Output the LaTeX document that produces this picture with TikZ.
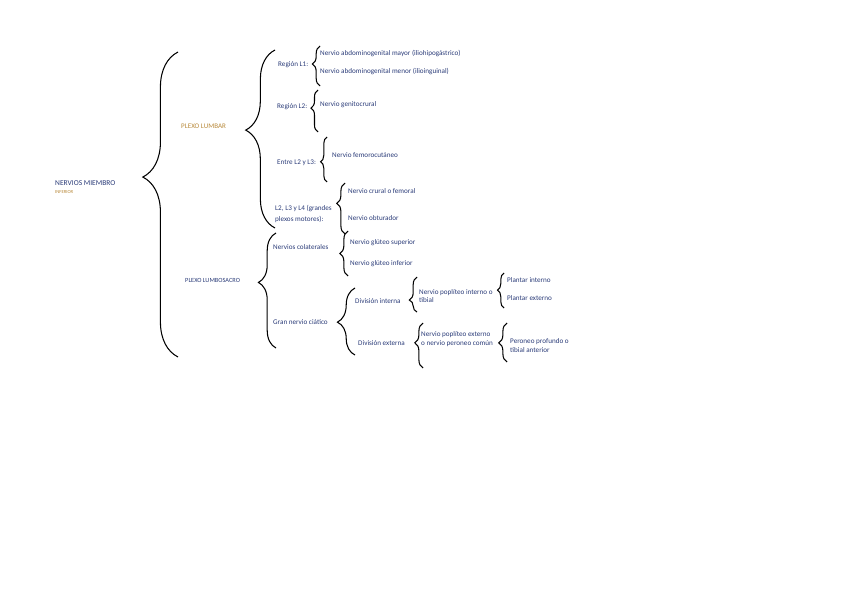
\documentclass[tikz,border=0pt]{standalone}
\usepackage{fontspec}
\setmainfont{Carlito}
\usepackage{tikz}
\usetikzlibrary{decorations.pathreplacing}
\definecolor{azul}{HTML}{2A3B78}
\definecolor{ocre}{HTML}{B8893A}
\tikzset{
  txt/.style={anchor=west, inner sep=0pt, text=azul, align=left, font=\fontsize{6.1}{7.6}\selectfont},
  titulo/.style={txt, font=\fontsize{6.4}{7}\selectfont},
  llave/.style 2 args={draw=black, line width=0.9pt, decorate, decoration={brace, amplitude=#1, aspect=#2}}
}

\begin{document}
\begin{tikzpicture}[x=0.3mm, y=-0.3mm]
  \useasboundingbox (0,0) rectangle (848,599);
  % titulo
  \node[titulo] (nervios) at (55,183) {NERVIOS MIEMBRO};
  \node[titulo, text=ocre, font=\fontsize{4}{5}\selectfont] (inferior) at (55,192) {INFERIOR};
  % plexos
  \node[titulo, text=ocre, font=\fontsize{6}{7}\selectfont] (plumbar) at (181,126) {PLEXO LUMBAR};
  \node[titulo, font=\fontsize{5.4}{6}\selectfont] (plumbosacro) at (185,280) {PLEXO LUMBOSACRO};
  % plexo lumbar
  \node[txt] (regl1) at (278,65) {Región L1:};
  \node[txt] (abdmayor) at (320,54) {Nervio abdominogenital mayor (iliohipogástrico)};
  \node[txt] (abdmenor) at (320,72) {Nervio abdominogenital menor (ilioinguinal)};
  \node[txt] (regl2) at (277,107) {Región L2:};
  \node[txt] (genito) at (320,105) {Nervio genitocrural};
  \node[txt] (entre) at (277,163) {Entre L2 y L3:};
  \node[txt] (femcut) at (332,155) {Nervio femorocutáneo};
  \node[txt, font=\fontsize{6.1}{9}\selectfont] (grandes) at (275,214) {L2, L3 y L4 (grandes\\plexos motores):};
  \node[txt] (crural) at (348,191) {Nervio crural o femoral};
  \node[txt] (obturador) at (348,218) {Nervio obturador};
  % plexo lumbosacro
  \node[txt] (colat) at (273,247) {Nervios colaterales};
  \node[txt] (glsup) at (350,243) {Nervio glúteo superior};
  \node[txt] (glinf) at (350,264) {Nervio glúteo inferior};
  \node[txt] (ciatico) at (273,322) {Gran nervio ciático};
  \node[txt] (divint) at (355,301) {División interna};
  \node[txt] (popint) at (419,296) {Nervio poplíteo interno o\\tibial};
  \node[txt] (plint) at (507,280) {Plantar interno};
  \node[txt] (plext) at (507,298) {Plantar externo};
  \node[txt] (divext) at (358,343) {División externa};
  \node[txt] (popext) at (421,339.5) {Nervio poplíteo externo\\o nervio peroneo común};
  \node[txt] (peroneo) at (510,345.5) {Peroneo profundo o\\tibial anterior};
  % llaves
  \coordinate (ll0a) at (178,357); \coordinate (ll0b) at (178,52);
  \coordinate (ll1a) at (275,228); \coordinate (ll1b) at (275,50);
  \coordinate (ll2a) at (276,348); \coordinate (ll2b) at (276,233);
  \coordinate (ll3a) at (320,86);  \coordinate (ll3b) at (320,46);
  \coordinate (ll4a) at (318,132); \coordinate (ll4b) at (318,90);
  \coordinate (ll5a) at (327,182); \coordinate (ll5b) at (327,137);
  \coordinate (ll6a) at (345,234); \coordinate (ll6b) at (345,183);
  \coordinate (ll7a) at (348,276); \coordinate (ll7b) at (348,231);
  \coordinate (ll8a) at (355,355); \coordinate (ll8b) at (355,288);
  \coordinate (ll9a) at (417,312); \coordinate (ll9b) at (417,277);
  \coordinate (ll10a) at (504,308); \coordinate (ll10b) at (504,273);
  \coordinate (ll11a) at (423,368); \coordinate (ll11b) at (423,323);
  \coordinate (ll12a) at (507,362); \coordinate (ll12b) at (507,323);
  \draw[llave={30pt}{0.59}] (ll0a) -- (ll0b);
  \draw[llave={25pt}{0.55}] (ll1a) -- (ll1b);
  \draw[llave={15pt}{0.57}] (ll2a) -- (ll2b);
  \draw[llave={6.5pt}{0.55}] (ll3a) -- (ll3b);
  \draw[llave={6pt}{0.57}] (ll4a) -- (ll4b);
  \draw[llave={5.5pt}{0.45}] (ll5a) -- (ll5b);
  \draw[llave={7pt}{0.6}] (ll6a) -- (ll6b);
  \draw[llave={7pt}{0.5}] (ll7a) -- (ll7b);
  \draw[llave={15pt}{0.49}] (ll8a) -- (ll8b);
  \draw[llave={6.5pt}{0.34}] (ll9a) -- (ll9b);
  \draw[llave={5.5pt}{0.51}] (ll10a) -- (ll10b);
  \draw[llave={7pt}{0.56}] (ll11a) -- (ll11b);
  \draw[llave={7pt}{0.49}] (ll12a) -- (ll12b);
\end{tikzpicture}
\end{document}
